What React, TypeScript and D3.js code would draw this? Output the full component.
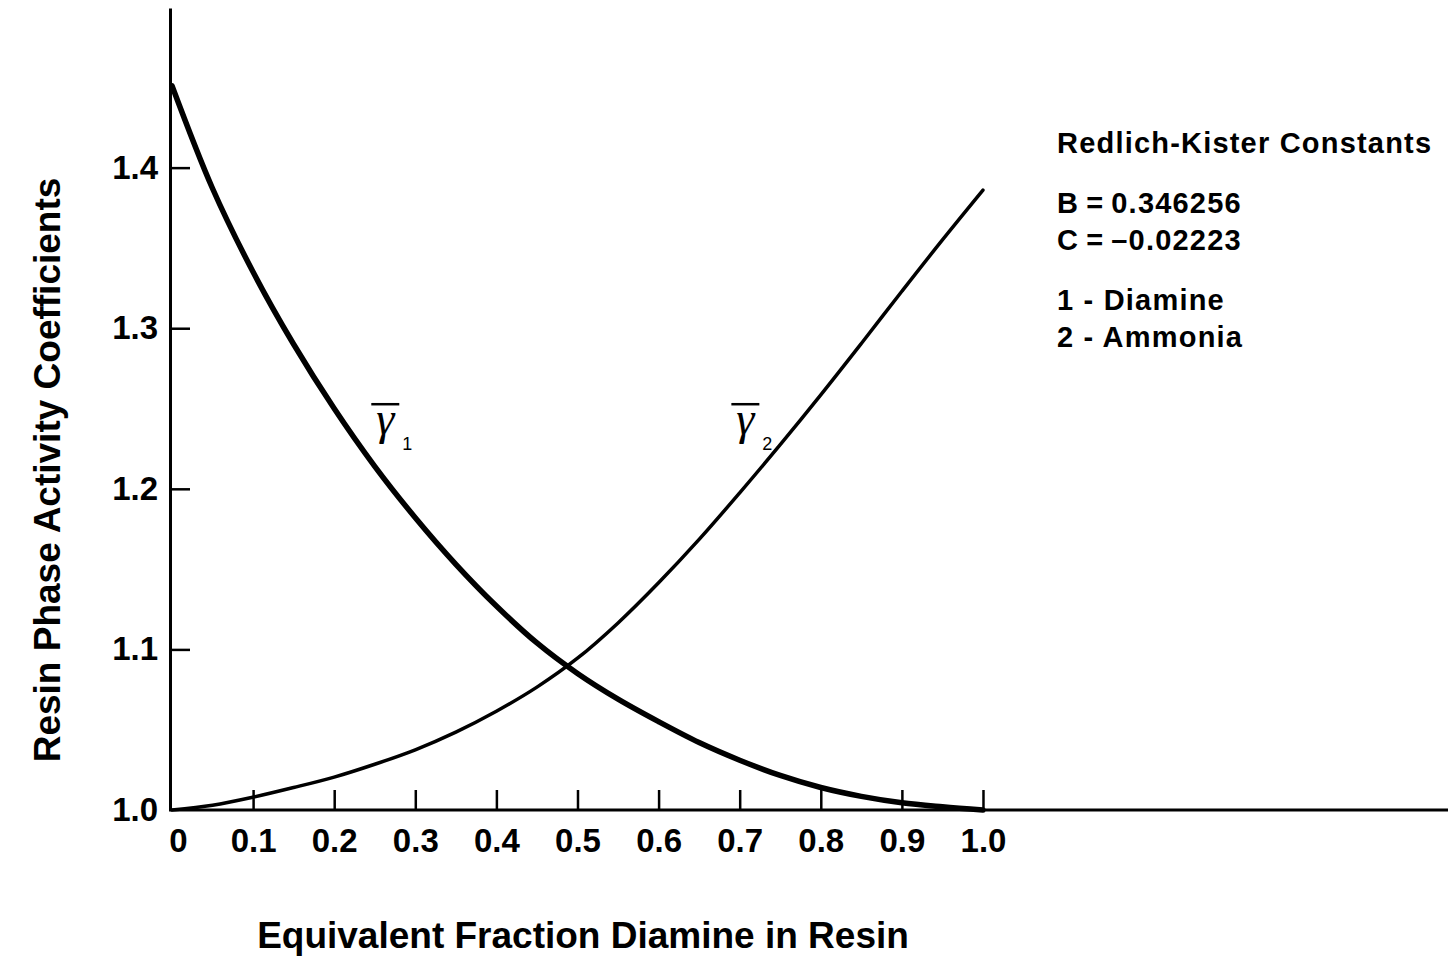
import React, { useEffect, useRef } from 'react';
import * as d3 from 'd3';

// equivalent fraction of diamine in the resin
const fractions = [0, 0.05, 0.1, 0.15, 0.2, 0.25, 0.3, 0.35, 0.4, 0.45, 0.5,
  0.55, 0.6, 0.65, 0.7, 0.75, 0.8, 0.85, 0.9, 0.95, 1.0];
// resin phase activity coefficient, 1 - diamine
const gamma1 = [1.451, 1.387, 1.335, 1.290, 1.250, 1.214, 1.182, 1.153, 1.127, 1.104, 1.085,
  1.069, 1.055, 1.042, 1.031, 1.0215, 1.014, 1.0085, 1.0045, 1.002, 1.0];
// resin phase activity coefficient, 2 - ammonia
const gamma2 = [1.0, 1.003, 1.008, 1.014, 1.0205, 1.0285, 1.0375, 1.0485, 1.0615, 1.0765, 1.0945,
  1.1165, 1.1415, 1.1685, 1.1975, 1.2275, 1.2585, 1.2905, 1.323, 1.355, 1.386];

const xTicks = [0, 0.1, 0.2, 0.3, 0.4, 0.5, 0.6, 0.7, 0.8, 0.9, 1.0];
const yTicks = [1.0, 1.1, 1.2, 1.3, 1.4];

const legendLines = [
  ['Redlich-Kister Constants'],
  ['B\u2009=\u20090.346256', 'C\u2009=\u2009\u20130.02223'],
  ['1 - Diamine', '2 - Ammonia'],
];

const FONT = '"Liberation Sans", Arial, Helvetica, sans-serif';

export default function App() {
  const svgRef = useRef<SVGSVGElement | null>(null);

  useEffect(() => {
    if (svgRef.current == null) return;
    const width = 1448;
    const height = 958;

    const x = d3.scaleLinear().domain([0, 1.5734]).range([172, 1448]);
    const y = d3.scaleLinear().domain([1.0, 1.4994]).range([810, 8]);

    const svg = d3.select(svgRef.current);
    svg.selectAll('*').remove();
    svg.attr('width', width).attr('height', height);

    svg.append('rect').attr('width', width).attr('height', height).attr('fill', '#fff');

    // x axis
    const xAxis = svg.append('g')
      .attr('transform', `translate(0,${y(1.0)})`)
      .call(d3.axisBottom(x)
        .tickValues(xTicks)
        .tickSizeInner(-20)
        .tickSizeOuter(0)
        .tickPadding(19)
        .tickFormat((d: any) => (d === 0 ? '0' : d3.format('.1f')(d))));
    xAxis.select('.domain').attr('stroke', '#000').attr('stroke-width', 3)
      .attr('d', `M${x(0) - 3},0H${width}`);
    xAxis.selectAll('.tick line').attr('stroke', '#000').attr('stroke-width', 2.5);
    xAxis.selectAll('.tick').filter((d: any) => d === 0).select('line').remove();
    xAxis.selectAll('.tick').filter((d: any) => d === 0).select('text').attr('dx', 6);
    xAxis.selectAll('.tick text')
      .attr('fill', '#000')
      .style('font-family', FONT)
      .style('font-weight', 'bold')
      .style('font-size', '33px');

    // y axis
    const yAxis = svg.append('g')
      .attr('transform', `translate(${x(0) - 2},0)`)
      .call(d3.axisLeft(y)
        .tickValues(yTicks)
        .tickSizeInner(-20)
        .tickSizeOuter(0)
        .tickPadding(12)
        .tickFormat(d3.format('.1f') as any));
    yAxis.select('.domain').attr('stroke', '#000').attr('stroke-width', 3);
    yAxis.selectAll('.tick line').attr('stroke', '#000').attr('stroke-width', 2.5);
    yAxis.selectAll('.tick').filter((d: any) => d === 1.0).select('line').remove();
    yAxis.selectAll('.tick text')
      .attr('fill', '#000')
      .style('font-family', FONT)
      .style('font-weight', 'bold')
      .style('font-size', '33px');

    // curves
    const line = d3.line<number>()
      .x((_, i) => x(fractions[i]))
      .y(d => y(d))
      .curve(d3.curveCatmullRom.alpha(0.5));

    svg.append('path')
      .datum(gamma1)
      .attr('fill', 'none')
      .attr('stroke', '#000')
      .attr('stroke-width', 5.5)
      .attr('stroke-linecap', 'round')
      .attr('d', line);

    svg.append('path')
      .datum(gamma2)
      .attr('fill', 'none')
      .attr('stroke', '#000')
      .attr('stroke-width', 3.5)
      .attr('stroke-linecap', 'round')
      .attr('d', line);

    // curve labels
    const curveLabel = (fx: number, gy: number, sub: string) => {
      const g = svg.append('g').attr('transform', `translate(${x(fx)},${y(gy)})`);
      g.append('text')
        .attr('x', 0)
        .attr('y', 0)
        .attr('text-anchor', 'middle')
        .style('font-family', '"Liberation Serif", "DejaVu Serif", serif')
        .style('font-style', 'italic')
        .style('font-size', '46px')
        .text('\u03b3');
      g.append('line')
        .attr('x1', -14).attr('x2', 14)
        .attr('y1', -30).attr('y2', -30)
        .attr('stroke', '#000').attr('stroke-width', 2.5);
      g.append('text')
        .attr('x', 17)
        .attr('y', 16)
        .style('font-family', FONT)
        .style('font-size', '18px')
        .text(sub);
    };
    curveLabel(0.263, 1.234, '1');
    curveLabel(0.707, 1.234, '2');

    // legend block
    const legend = svg.append('g')
      .style('font-family', FONT)
      .style('font-weight', 'bold')
      .style('font-size', '29px')
      .style('letter-spacing', '1.2px');
    let ty = 153;
    legendLines.forEach((group, gi) => {
      if (gi > 0) ty += 23;
      group.forEach(t => {
        legend.append('text').attr('x', 1057).attr('y', ty).text(t);
        ty += 37;
      });
    });

    // axis titles
    svg.append('text')
      .attr('x', 583)
      .attr('y', 948)
      .attr('text-anchor', 'middle')
      .style('font-family', FONT)
      .style('font-weight', 'bold')
      .style('font-size', '37px')
      .text('Equivalent Fraction Diamine in Resin');

    svg.append('text')
      .attr('transform', `translate(60,${470}) rotate(-90)`)
      .attr('text-anchor', 'middle')
      .style('font-family', FONT)
      .style('font-weight', 'bold')
      .style('font-size', '37px')
      .text('Resin Phase Activity Coefficients');
  }, []);

  return (
    <svg ref={svgRef} style={{ position: 'absolute', left: 0, top: 0, display: 'block' }}></svg>
  );
}
